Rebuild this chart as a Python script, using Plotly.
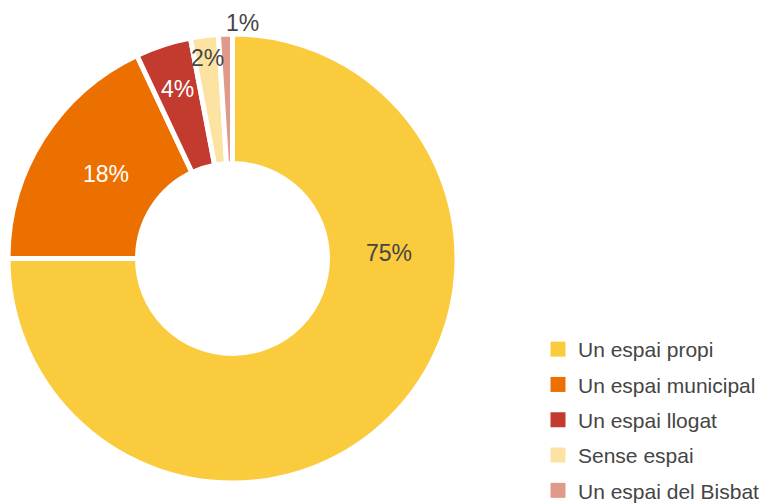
import math
import plotly.graph_objects as go

labels = ["Un espai propi", "Un espai municipal", "Un espai llogat", "Sense espai", "Un espai del Bisbat"]
values = [75, 18, 4, 2, 1]
colors = ["#FBCB3E", "#EC7000", "#C33A2F", "#FDE3A2", "#E09A8A"]
text_colors = ["#454545", "#FFFFFF", "#FFFFFF", "#454545", "#454545"]

FONT = "Liberation Sans, Arial, sans-serif"
W, H = 768, 504
# pie geometry (pixels)
CX, CY, R = 232.5, 258.5, 224.5

total = sum(values)
pct = [f"{v / total:.0%}" for v in values]

# label placement: radius (px) and angle (deg clockwise from 12 o'clock);
# None angle -> slice mid-angle
label_r = [157, 152, 178, 202, 236]
label_angle = [88, 304, None, None, 2.4]

cum = 0
mid_angles = []
for v in values:
    mid_angles.append((cum + v / 2) / total * 360)
    cum += v

fig = go.Figure()
fig.add_trace(go.Pie(
    labels=labels,
    values=values,
    marker=dict(colors=colors, line=dict(color="white", width=5)),
    hole=0.423,
    sort=False,
    direction="clockwise",
    rotation=0,
    textinfo="none",
    domain=dict(x=[(CX - R) / W, (CX + R) / W], y=[(H - CY - R) / H, (H - CY + R) / H]),
    showlegend=False,
    hoverinfo="label+percent",
))

# legend entries (square swatches)
for lab, col in zip(labels, colors):
    fig.add_trace(go.Scatter(
        x=[None], y=[None], mode="markers", name=lab, legendgroup=lab,
        marker=dict(symbol="square", size=15, color=col),
        showlegend=True,
    ))

for i, p in enumerate(pct):
    ang = math.radians(label_angle[i] if label_angle[i] is not None else mid_angles[i])
    px = CX + label_r[i] * math.sin(ang)
    py = CY - label_r[i] * math.cos(ang)
    fig.add_annotation(x=px / W, y=(H - py) / H, xref="paper", yref="paper",
                       xanchor="center", yanchor="middle",
                       text=p, showarrow=False,
                       font=dict(family=FONT, size=23, color=text_colors[i]))

fig.update_layout(
    width=W, height=H,
    margin=dict(l=0, r=0, t=0, b=0, autoexpand=False),
    paper_bgcolor="white",
    plot_bgcolor="white",
    xaxis=dict(visible=False),
    yaxis=dict(visible=False),
    legend=dict(
        x=538 / W, y=-7 / H, xanchor="left", yanchor="bottom",
        font=dict(family=FONT, size=21, color="#454545"),
        traceorder="grouped",
        tracegroupgap=5,
        itemsizing="trace",
        bgcolor="rgba(0,0,0,0)",
    ),
)

fig.write_html("out.html", config={"displayModeBar": False},
               post_script="document.body.style.margin='0';")
